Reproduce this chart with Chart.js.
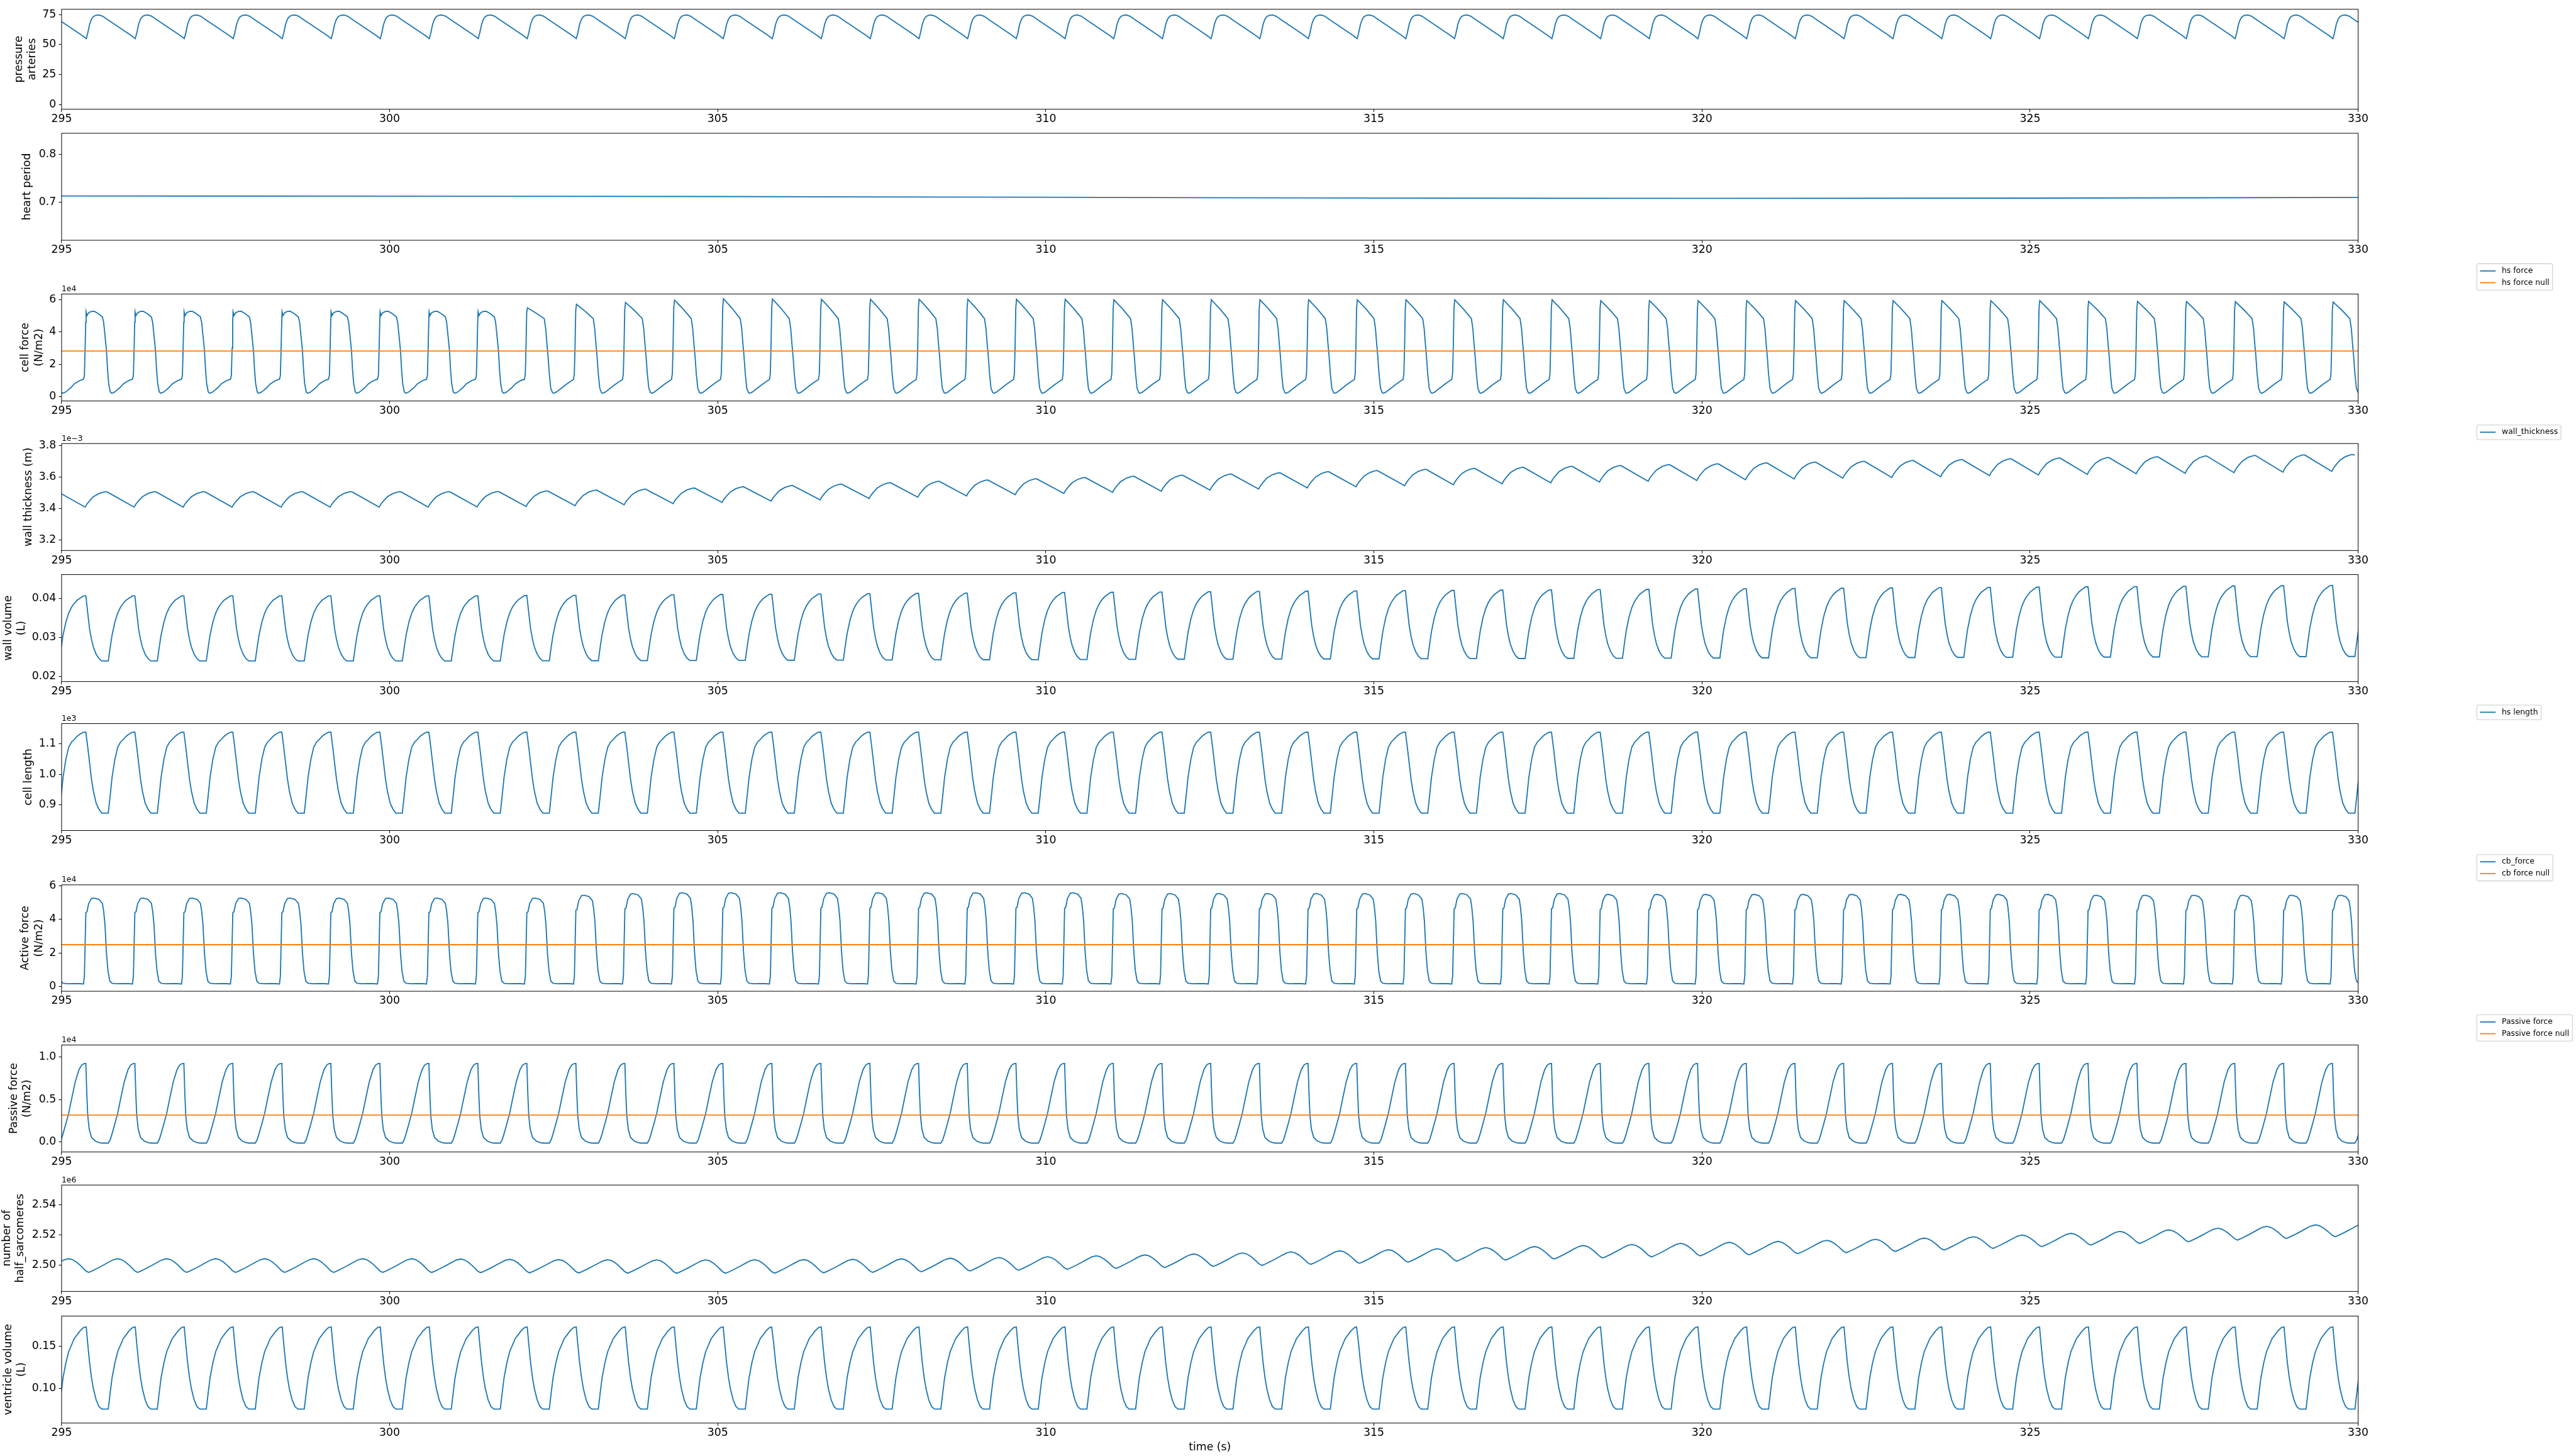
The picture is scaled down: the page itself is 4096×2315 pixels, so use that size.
<!DOCTYPE html>
<html><head><meta charset="utf-8">
<script src="https://cdn.jsdelivr.net/npm/chart.js@4.4.1/dist/chart.umd.min.js"></script>
<style>
html,body{margin:0;padding:0;background:#fff;}
#fig{position:relative;width:4096px;height:2315px;overflow:hidden;background:#fff;}
.pane{position:absolute;left:0;width:4096px;}
</style></head><body><div id="fig"></div>
<script>
// ---------------- DATA ----------------
const timeTicks = [295, 300, 305, 310, 315, 320, 325, 330];
// start time (s) of every heart beat (onset of contraction)
const beatStart = [294.586,295.333,296.080,296.827,297.573,298.320,299.067,299.814,300.561,301.307,302.054,302.801,303.548,304.295,305.041,305.788,306.535,307.282,308.024,308.766,309.508,310.250,310.992,311.734,312.476,313.218,313.960,314.702,315.444,316.186,316.928,317.670,318.412,319.154,319.896,320.638,321.380,322.122,322.867,323.612,324.357,325.102,325.847,326.592,327.338,328.083,328.828,329.573,330.318];

// arterial pressure, one beat (phase = fraction of the beat)
const pressurePhase = [0,0.057,0.088,0.126,0.164,0.203,0.260,0.324,0.393,0.507,0.661,0.813,0.966];
const pressureValue = [56.8,55.0,59.7,67.0,71.2,73.5,74.6,74.7,73.7,70.4,66.2,62.0,57.8];

// heart period
const heartTime   = [295,297.5,300,302.5,305,307.5,310,312.5,315,317.5,320,322.5,325,327.5,330];
const heartPeriod = [0.7132,0.7131,0.7129,0.7125,0.7120,0.7113,0.7105,0.7097,0.7090,0.7085,0.7083,0.7084,0.7088,0.7095,0.7102];

// hs force (x1e4 N/m2), early-form beat and late-form beat
const cellForceEarlyPhase = [0,.019,.034,.046,.054,.072,.107,.164,.221,.298,.386,.412,.439,.470,.493,.515,.546,.576,.622,.679,.737,.813,.890,.947];
const cellForceEarlyValue = [1.07,1.3,3.0,4.6,5.25,5.03,5.2,5.28,5.29,5.15,4.94,4.6,3.8,2.83,1.6,0.8,0.29,0.2,0.25,0.38,0.53,0.78,0.93,1.02];
const cellForceLatePhase  = [0,.017,.031,.046,.061,.137,.241,.321,.404,.434,.460,.481,.506,.537,.573,.598,.649,.751,.855,.956];
const cellForceLateValue  = [1.05,1.4,3.0,5.5,6.05,5.8,5.45,5.15,4.83,4.2,3.2,2.5,1.43,0.51,0.24,0.2,0.27,0.51,0.76,0.97];
const cellForceForm = [0,0,0,0,0,0,0,0,0,0, 1,1,1,1,1,1,1,1,1,1,1,1,1,1,1,1,1,1,1,1,1,1,1,1,1,1,1,1,1,1,1,1,1,1,1,1,1,1];
const cellForcePeak = [5.29,5.29,5.29,5.29,5.29,5.29,5.29,5.29,5.29,5.29, 5.5,5.72,5.84,5.98,6.07,6.05, 6.03,6.03,6.03,6.03,6.03,6.03, 6.0,6.0,6.0,6.0,6.0,6.0,6.0,6.0,6.0,6.0, 5.95,5.95,5.95,5.95,5.95,5.95,5.95,5.95,5.95,5.95, 5.9,5.9,5.89,5.88,5.87,5.86];
const hsForceNull = [2.82, 2.82];
const nullTime = [294.5, 330.5];

// wall thickness (x1e-3 m): beat shape between per-beat minimum and maximum
const wallThickPhase = [.034,.07,.126,.203,.317,.401,.44,.47,.50];
const wallThickFrac  = [0,.2,.416,.675,.883,.97,.995,1,.955];
const wallThickMin = [3.410,3.410,3.410,3.410,3.410,3.410,3.410,3.410,3.410,3.411,3.414,3.419,3.425,3.432,3.440,3.448,3.456,3.465,3.473,3.481,3.489,3.497,3.504,3.511,3.518,3.525,3.532,3.539,3.546,3.552,3.558,3.564,3.569,3.574,3.579,3.584,3.589,3.594,3.598,3.603,3.610,3.614,3.618,3.622,3.625,3.629,3.632,3.637,3.640];
const wallThickMax = [3.508,3.508,3.508,3.508,3.508,3.508,3.508,3.508,3.508,3.509,3.513,3.518,3.524,3.531,3.539,3.547,3.556,3.565,3.574,3.582,3.590,3.598,3.606,3.613,3.620,3.628,3.635,3.642,3.650,3.656,3.663,3.669,3.674,3.680,3.685,3.691,3.696,3.701,3.706,3.712,3.717,3.722,3.725,3.730,3.735,3.738,3.742,3.744,3.748];

// wall volume (L)
const wallVolPhase = [0,.049,.088,.126,.164,.203,.260,.317,.375,.507,.546,.584,.641,.699,.756,.813,.871,.928];
const wallVolFrac  = [1,1,.735,.488,.331,.211,.102,.036,0,0,.211,.398,.596,.735,.825,.886,.934,.964];
const wallVolMin = [.0240,.0240,.0240,.0240,.0240,.0240,.0240,.0240,.0240,.0240,.02403,.02406,.02409,.02412,.02415,.02418,.02421,.02424,.02427,.02430,.02433,.02436,.02439,.02442,.02445,.02448,.02451,.02454,.02457,.02460,.02463,.02466,.02469,.02472,.02475,.02478,.02481,.02484,.02487,.02490,.02493,.02496,.02499,.02502,.02505,.02508,.02511,.02514,.02517];
const wallVolMax = [.0406,.0406,.0406,.0406,.0406,.0406,.0406,.0406,.0406,.0406,.04067,.04074,.04081,.04088,.04095,.04102,.04109,.04116,.04123,.04130,.04137,.04144,.04151,.04158,.04165,.04172,.04179,.04186,.04193,.04200,.04207,.04214,.04221,.04228,.04235,.04242,.04249,.04256,.04263,.04270,.04277,.04284,.04291,.04298,.04305,.04312,.04319,.04326,.04333];

// hs length (x1e3)
const cellLenPhase = [0,.049,.088,.126,.164,.203,.260,.317,.375,.507,.546,.584,.641,.699,.756,.813,.871,.928];
const cellLenValue = [1.1374,1.1374,1.0883,1.036,0.9837,0.9444,0.905,0.8855,0.8727,0.8727,0.931,0.990,1.0486,1.0885,1.105,1.114,1.124,1.131];

// cb force (x1e4 N/m2)
const activePhase = [0,.019,.034,.049,.072,.107,.164,.221,.317,.386,.412,.439,.470,.501,.538,.584,.687,.802,.916];
const activeValue = [0.14,0.6,2.5,4.41,4.46,4.95,5.25,5.28,5.2,4.97,4.5,3.7,1.96,0.9,0.31,0.18,0.15,0.16,0.155];
const activePeak = [5.28,5.28,5.28,5.28,5.28,5.28,5.28,5.28,5.28,5.28,5.28, 5.45,5.55, 5.6,5.6,5.6,5.6,5.6,5.6,5.6,5.6,5.6, 5.55,5.55,5.55,5.55,5.55,5.55,5.55,5.55,5.55,5.55, 5.5,5.5,5.5,5.5,5.5,5.5,5.5,5.5,5.5,5.5, 5.45,5.45,5.45,5.45,5.45,5.45];
const cbForceNull = [2.49, 2.49];

// passive force (x1e4 N/m2)
const passivePhase = [0,.031,.049,.069,.088,.118,.164,.241,.317,.375,.507,.546,.584,.641,.699,.756,.833,.908,.962];
const passiveValue = [0.92,0.925,0.925,0.56,0.31,0.15,0.055,0.012,-0.005,-0.012,-0.012,0.028,0.098,0.216,0.34,0.5,0.71,0.85,0.905];
const passivePeak = Array.from({length:48}, () => 0.925);
const passiveNull = [0.3175, 0.3175];

// number of half sarcomeres (x1e6)
const hsCountPhase = [.107,.172,.286,.401,.515,.607,.699,.779,.859,.939,1.0,1.034,1.069];
const hsCountFrac  = [0,.1,.3,.52,.75,.92,1,.93,.75,.5,.28,.15,.06];
const hsCountMin = [2.4952,2.4952,2.4952,2.4952,2.4952,2.4952,2.4952,2.4952,2.4951,2.4950,2.4949,2.4948,2.4947,2.4946,2.4946,2.4947,2.4949,2.4952,2.4956,2.4961,2.4966,2.4972,2.4978,2.4984,2.4991,2.4998,2.5005,2.5012,2.5019,2.5026,2.5033,2.5040,2.5047,2.5054,2.5061,2.5068,2.5075,2.5082,2.5090,2.5099,2.5110,2.5122,2.5132,2.5143,2.5154,2.5165,2.5176,2.5187,2.5198];
const hsCountMax = [2.5042,2.5042,2.5042,2.5042,2.5042,2.5042,2.5042,2.5042,2.5040,2.5038,2.5036,2.5035,2.5034,2.5034,2.5035,2.5036,2.5038,2.5041,2.5045,2.5050,2.5055,2.5061,2.5067,2.5073,2.5080,2.5087,2.5094,2.5101,2.5108,2.5115,2.5122,2.5129,2.5136,2.5143,2.5150,2.5156,2.5163,2.5170,2.5178,2.5187,2.5198,2.5209,2.5222,2.5232,2.5243,2.5255,2.5265,2.5276,2.5287];

// ventricle volume (L)
const ventPhase = [0,.045,.057,.088,.126,.164,.203,.260,.317,.375,.507,.546,.584,.641,.699,.813,.928];
const ventValue = [0.1716,0.1723,0.1723,0.1522,0.130,0.1127,0.0995,0.0864,0.0787,0.0758,0.0758,0.095,0.1127,0.130,0.1434,0.1588,0.1675];

// ---------------- series assembly ----------------
function zip(ph, val){ return ph.map((p,i)=>[p,val[i]]); }
function beats(shapeFor, valueFor){
  const pts = [];
  for (let i = 0; i < beatStart.length - 1; i++) {
    const t0 = beatStart[i], P = beatStart[i+1] - t0;
    for (const [ph, v] of shapeFor(i)) pts.push({x: t0 + ph*P, y: valueFor(v, i, ph)});
  }
  return pts;
}
function beatsNorm(ph, fr, lo, hi, pivot, sw){
  const tpl = zip(ph, fr);
  return beats(() => tpl, (f, i, p) => {
    const after = p > pivot;
    const l = (after && sw === 'lo') ? lo[i+1] : lo[i];
    const h = (after && sw === 'hi') ? hi[i+1] : hi[i];
    return l + f*(h - l);
  });
}
const pressureTpl = zip(pressurePhase, pressureValue);
const cfEarly = zip(cellForceEarlyPhase, cellForceEarlyValue);
const cfLate = zip(cellForceLatePhase, cellForceLateValue);
const CF_BASE = 4.83, CF_TOP = Math.max(...cellForceLateValue);
const cellLenTpl = zip(cellLenPhase, cellLenValue);
const activeTpl = zip(activePhase, activeValue);
const ACT_BASE = 0.15, ACT_TOP = Math.max(...activeValue);
const passiveTpl = zip(passivePhase, passiveValue);
const PAS_TOP = Math.max(...passiveValue);
const ventTpl = zip(ventPhase, ventValue);

const pressureSeries = beats(() => pressureTpl, v => v);
const heartSeries = heartTime.map((t,i)=>({x:t, y:heartPeriod[i]}));
const cellForceSeries = beats(i => cellForceForm[i] ? cfLate : cfEarly,
  (v,i) => (cellForceForm[i] && v > CF_BASE) ? CF_BASE + (v-CF_BASE)*(cellForcePeak[i]-CF_BASE)/(CF_TOP-CF_BASE) : v);
const wallThickSeries = beatsNorm(wallThickPhase, wallThickFrac, wallThickMin, wallThickMax, 0.47, 'lo');
const wallVolSeries = beatsNorm(wallVolPhase, wallVolFrac, wallVolMin, wallVolMax, 0.507, 'hi');
const cellLenSeries = beats(() => cellLenTpl, v => v);
const activeSeries = beats(() => activeTpl, (v,i) => v > ACT_BASE ? ACT_BASE + (v-ACT_BASE)*(activePeak[i]-ACT_BASE)/(ACT_TOP-ACT_BASE) : v);
const passiveSeries = beats(() => passiveTpl, (v,i) => v > 0 ? v*passivePeak[i]/PAS_TOP : v);
const hsCountSeries = beatsNorm(hsCountPhase, hsCountFrac, hsCountMin, hsCountMax, 0.699, 'lo');
const ventSeries = beats(() => ventTpl, v => v);
const flat = arr => nullTime.map((t,i)=>({x:t, y:arr[i]}));

// ---------------- layout / style ----------------
const S = 4096/4600;
const FONT = '"DejaVu Sans", "Liberation Sans", sans-serif';
const FS = 19.44*S, FS_SMALL = 13.89*S;
const LW = 2.08*S;
const BLUE = '#1f77b4', ORANGE = '#ff7f0e';
const AX_LEFT = 110, AX_RIGHT = 4211;

const panels = [
 {T:5,    B:195,  ds:[['pressure arteries', pressureSeries, BLUE]], y:[-3.95,79.5], step:25, dec:0, ylabel:['pressure','arteries'], lx:[34.7,58]},
 {T:238,  B:429,  ds:[['heart period', heartSeries, BLUE]], y:[0.6213,0.8434], step:0.1, dec:1, ylabel:['heart period'], lx:[48.7]},
 {T:525,  B:716,  ds:[['hs force', cellForceSeries, BLUE],['hs force null', flat(hsForceNull), ORANGE]], y:[-0.28,6.36], step:2, dec:0, ylabel:['cell force','(N/m2)'], lx:[46,70], off:'1e4', legend:true},
 {T:792,  B:983,  ds:[['wall_thickness', wallThickSeries, BLUE]], y:[3.1345,3.814], step:0.2, dec:1, ylabel:['wall thickness (m)'], lx:[51.3], off:'1e\u22123', legend:true},
 {T:1026, B:1217, ds:[['wall volume', wallVolSeries, BLUE]], y:[0.01874,0.04603], step:0.01, dec:2, ylabel:['wall volume','(L)'], lx:[15,38.5]},
 {T:1292, B:1483, ds:[['hs length', cellLenSeries, BLUE]], y:[0.8159,1.1657], step:0.1, dec:1, ylabel:['cell length'], lx:[51.3], off:'1e3', legend:true},
 {T:1580, B:1770, ds:[['cb_force', activeSeries, BLUE],['cb force null', flat(cbForceNull), ORANGE]], y:[-0.298,6.07], step:2, dec:0, ylabel:['Active force','(N/m2)'], lx:[46,70], off:'1e4', legend:true},
 {T:1866, B:2057, ds:[['Passive force', passiveSeries, BLUE],['Passive force null', flat(passiveNull), ORANGE]], y:[-0.1166,1.1416], step:0.5, dec:1, ylabel:['Passive force','(N/m2)'], lx:[25,48.5], off:'1e4', legend:true},
 {T:2116, B:2306, ds:[['number of half_sarcomeres', hsCountSeries, BLUE]], y:[2.4826,2.5528], step:0.02, dec:2, ylabel:['number of','half_sarcomeres'], lx:[13,36.3], off:'1e6'},
 {T:2350, B:2541, ds:[['ventricle volume', ventSeries, BLUE]], y:[0.0594,0.1851], step:0.05, dec:2, ylabel:['ventricle volume','(L)'], lx:[14.7,38.3], xtitle:'time (s)'}
];

const decor = {
  id: 'decor',
  afterDraw(chart, args, o) {
    const ctx = chart.ctx, a = chart.chartArea;
    ctx.save();
    ctx.strokeStyle = '#000'; ctx.lineWidth = 1.11*S;
    ctx.strokeRect(a.left, a.top, a.right - a.left, a.bottom - a.top);
    ctx.fillStyle = '#000';
    if (o.off) {
      ctx.font = FS_SMALL + 'px ' + FONT; ctx.textAlign = 'left'; ctx.textBaseline = 'alphabetic';
      ctx.fillText(o.off, a.left, a.top - 5*S);
    }
    ctx.font = FS + 'px ' + FONT; ctx.textAlign = 'center'; ctx.textBaseline = 'middle';
    const cy = (a.top + a.bottom)/2;
    o.ylabel.forEach((line, j) => {
      ctx.save(); ctx.translate(o.lx[j]*S, cy); ctx.rotate(-Math.PI/2); ctx.fillText(line, 0, 0); ctx.restore();
    });
    if (o.legend) {
      const items = chart.data.datasets.map(d => ({label: d.label, color: d.borderColor}));
      ctx.font = FS_SMALL + 'px ' + FONT;
      const tw = Math.max(...items.map(it => ctx.measureText(it.label).width));
      const bx = 4423*S, bw = (4467.5-4423)*S + tw + 5.6*S;
      const bh = (26 + 21*(items.length-1))*S;
      const by = a.top - 7*S - bh;
      ctx.beginPath();
      if (ctx.roundRect) ctx.roundRect(bx, by, bw, bh, 2.5*S); else ctx.rect(bx, by, bw, bh);
      ctx.fillStyle = 'rgba(255,255,255,0.8)'; ctx.fill();
      ctx.strokeStyle = '#cccccc'; ctx.lineWidth = 1.2*S; ctx.stroke();
      items.forEach((it, j) => {
        const y = by + 12.8*S + j*21*S;
        ctx.beginPath(); ctx.moveTo(4428.6*S, y); ctx.lineTo(4456.4*S, y);
        ctx.strokeStyle = it.color; ctx.lineWidth = LW; ctx.stroke();
        ctx.fillStyle = '#000'; ctx.textAlign = 'left'; ctx.textBaseline = 'middle';
        ctx.fillText(it.label, 4467.5*S, y);
      });
    }
    ctx.restore();
  }
};

const fig = document.getElementById('fig');
panels.forEach((p, idx) => {
  const padTopFull = Math.min(60, p.T);
  const top = Math.floor((p.T - padTopFull)*S);
  const padTop = p.T*S - top;
  const axisH = (p.xtitle ? (2585 + 11.66 - p.B) : 45)*S;
  const h = Math.ceil(padTop + (p.B - p.T)*S + axisH);
  const padBottom = h - padTop - (p.B - p.T)*S - axisH;
  const div = document.createElement('div');
  div.className = 'pane'; div.style.top = top + 'px'; div.style.height = h + 'px';
  const cv = document.createElement('canvas');
  div.appendChild(cv); fig.appendChild(div);
  const datasets = p.ds.map((d, j) => ({
    label: d[0], data: d[1], borderColor: d[2], backgroundColor: d[2],
    borderWidth: LW, pointRadius: 0, tension: 0, fill: false, order: j === 0 ? 1 : 0
  }));
  new Chart(cv, {
    type: 'line',
    data: {datasets},
    options: {
      responsive: true, maintainAspectRatio: false, animation: false, events: [],
      parsing: false, normalized: true,
      layout: {autoPadding: false, padding: {top: padTop, left: 0, right: (4600 - AX_RIGHT)*S, bottom: padBottom}},
      plugins: {legend: {display: false}, tooltip: {enabled: false}, title: {display: false},
        decor: {off: p.off, ylabel: p.ylabel, lx: p.lx, legend: p.legend}},
      scales: {
        x: {type: 'linear', position: 'bottom', min: timeTicks[0], max: timeTicks[timeTicks.length-1],
          ticks: {stepSize: 5, includeBounds: false, autoSkip: false, maxRotation: 0, color: '#000',
            font: {size: FS, family: FONT}, padding: 1.24*S, callback: v => v.toFixed(0)},
          grid: {drawOnChartArea: false, drawTicks: true, tickLength: 4.86*S, tickWidth: 1.11*S, tickColor: '#000', color: '#000'},
          border: {display: false},
          title: p.xtitle ? {display: true, text: p.xtitle, color: '#000', font: {size: FS, family: FONT}, padding: 0} : {display: false},
          afterFit: s => { s.height = axisH; }},
        y: {type: 'linear', position: 'left', min: p.y[0], max: p.y[1],
          ticks: {stepSize: p.step, includeBounds: false, autoSkip: false, color: '#000',
            font: {size: FS, family: FONT}, padding: 4.86*S, callback: v => Number(v).toFixed(p.dec)},
          grid: {drawOnChartArea: false, drawTicks: true, tickLength: 4.86*S, tickWidth: 1.11*S, tickColor: '#000', color: '#000'},
          border: {display: false},
          afterFit: s => { s.width = AX_LEFT*S; }}
      }
    },
    plugins: [decor]
  });
});
</script></body></html>
